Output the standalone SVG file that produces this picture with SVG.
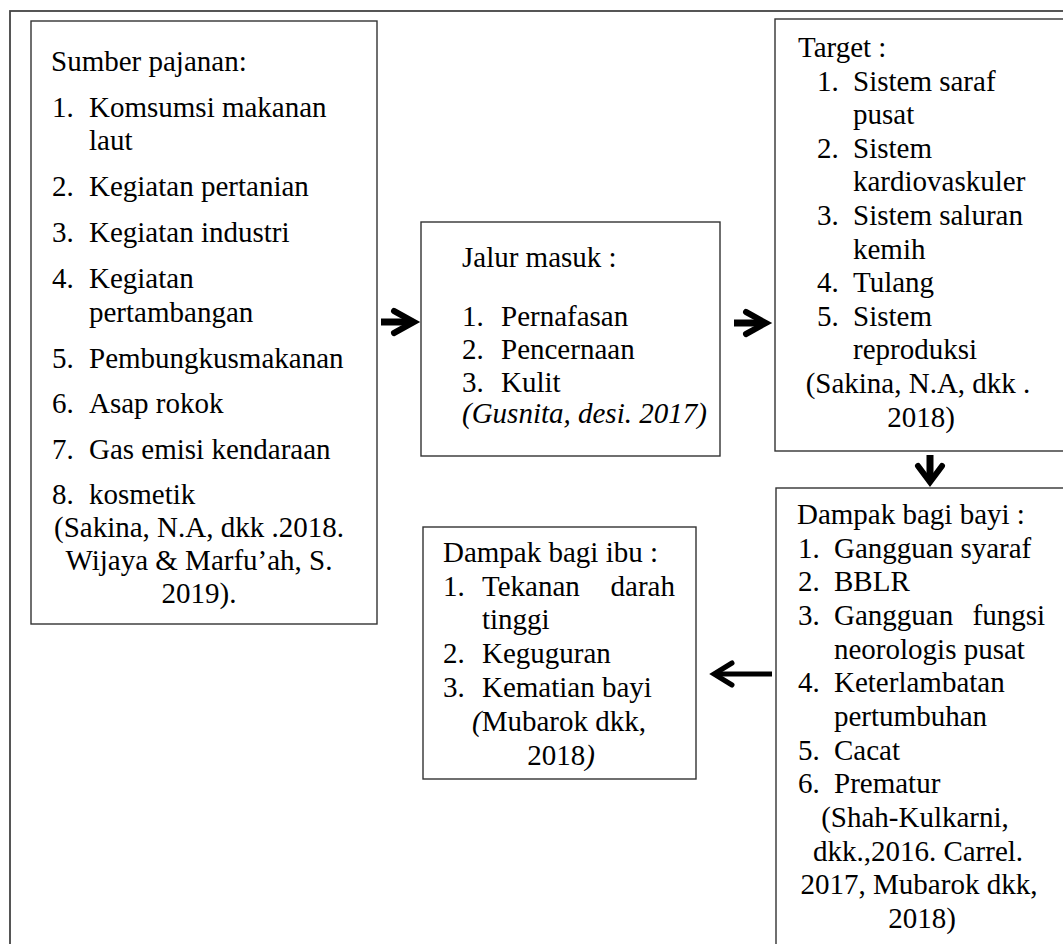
<svg xmlns="http://www.w3.org/2000/svg" width="1063" height="944" viewBox="0 0 1063 944">
<style>
.t{font-family:'Liberation Serif','Times New Roman',Times,serif;font-size:29px;fill:#000}
.c{text-anchor:middle}
.e{text-anchor:end}
.i{font-style:italic}
.box{fill:#fff;stroke:#333;stroke-width:1.4}
.outer{fill:#fff;stroke:#444;stroke-width:1.8}
.arr{fill:none;stroke:#000;stroke-width:6;stroke-linecap:round;stroke-linejoin:miter}
.shaft{fill:none;stroke:#000;stroke-width:7;stroke-linecap:butt}
</style>
<rect width="1063" height="944" fill="#fff"/>
<rect class="outer" x="10" y="11" width="1100" height="1000"/>
<g font-family="Liberation Serif, serif">
<g id="sumber">
<rect class="box" x="31" y="21" width="346" height="603"/>
<text class="t" x="51" y="71">Sumber pajanan:</text>
<text class="t" x="52" y="117">1.</text><text class="t" x="89" y="117">Komsumsi makanan</text>
<text class="t" x="89" y="150">laut</text>
<text class="t" x="52" y="196">2.</text><text class="t" x="89" y="196">Kegiatan pertanian</text>
<text class="t" x="52" y="242">3.</text><text class="t" x="89" y="242">Kegiatan industri</text>
<text class="t" x="52" y="288">4.</text><text class="t" x="89" y="288">Kegiatan</text>
<text class="t" x="89" y="322">pertambangan</text>
<text class="t" x="52" y="368">5.</text><text class="t" x="89" y="368">Pembungkusmakanan</text>
<text class="t" x="52" y="413">6.</text><text class="t" x="89" y="413">Asap rokok</text>
<text class="t" x="52" y="459">7.</text><text class="t" x="89" y="459">Gas emisi kendaraan</text>
<text class="t" x="52" y="504">8.</text><text class="t" x="89" y="504">kosmetik</text>
<text class="t c" x="199" y="537">(Sakina, N.A, dkk .2018.</text>
<text class="t c" x="199" y="570">Wijaya &amp; Marfu’ah, S.</text>
<text class="t c" x="199" y="603">2019).</text>
</g>
<g id="jalur">
<rect class="box" x="421" y="222" width="299" height="234"/>
<text class="t" x="462" y="267">Jalur masuk :</text>
<text class="t" x="462" y="326">1.</text><text class="t" x="501" y="326">Pernafasan</text>
<text class="t" x="462" y="359">2.</text><text class="t" x="501" y="359">Pencernaan</text>
<text class="t" x="462" y="392">3.</text><text class="t" x="501" y="392">Kulit</text>
<text class="t i" x="462" y="423">(Gusnita, desi. 2017)</text>
</g>
<g id="target">
<rect class="box" x="775" y="19" width="320" height="432"/>
<text class="t" x="798" y="57">Target :</text>
<text class="t" x="817" y="91">1.</text><text class="t" x="853" y="91">Sistem saraf</text>
<text class="t" x="853" y="124">pusat</text>
<text class="t" x="817" y="158">2.</text><text class="t" x="853" y="158">Sistem</text>
<text class="t" x="853" y="191">kardiovaskuler</text>
<text class="t" x="817" y="225">3.</text><text class="t" x="853" y="225">Sistem saluran</text>
<text class="t" x="853" y="259">kemih</text>
<text class="t" x="817" y="292">4.</text><text class="t" x="853" y="292">Tulang</text>
<text class="t" x="817" y="326">5.</text><text class="t" x="853" y="326">Sistem</text>
<text class="t" x="853" y="359">reproduksi</text>
<text class="t c" x="918" y="393">(Sakina, N.A, dkk .</text>
<text class="t c" x="921" y="427">2018)</text>
</g>
<g id="bayi">
<rect class="box" x="776" y="488" width="320" height="500"/>
<text class="t" x="797" y="524">Dampak bagi bayi :</text>
<text class="t" x="798" y="558">1.</text><text class="t" x="834" y="558">Gangguan syaraf</text>
<text class="t" x="798" y="591">2.</text><text class="t" x="834" y="591">BBLR</text>
<text class="t" x="798" y="625">3.</text><text class="t" x="834" y="625">Gangguan</text><text class="t e" x="1045" y="625">fungsi</text>
<text class="t" x="834" y="659">neorologis pusat</text>
<text class="t" x="798" y="692">4.</text><text class="t" x="834" y="692">Keterlambatan</text>
<text class="t" x="834" y="726">pertumbuhan</text>
<text class="t" x="798" y="760">5.</text><text class="t" x="834" y="760">Cacat</text>
<text class="t" x="798" y="793">6.</text><text class="t" x="834" y="793">Prematur</text>
<text class="t c" x="915" y="827">(Shah-Kulkarni,</text>
<text class="t c" x="918" y="861">dkk.,2016. Carrel.</text>
<text class="t c" x="919" y="894">2017, Mubarok dkk,</text>
<text class="t c" x="922" y="928">2018)</text>
</g>
<g id="ibu">
<rect class="box" x="423" y="527" width="273" height="252"/>
<text class="t" x="443" y="562">Dampak bagi ibu :</text>
<text class="t" x="443" y="596">1.</text><text class="t" x="482" y="596">Tekanan</text><text class="t e" x="675" y="596">darah</text>
<text class="t" x="482" y="629">tinggi</text>
<text class="t" x="443" y="663">2.</text><text class="t" x="482" y="663">Keguguran</text>
<text class="t" x="443" y="697">3.</text><text class="t" x="482" y="697">Kematian bayi</text>
<text class="t c" x="559" y="731"><tspan class="i">(</tspan>Mubarok dkk,</text>
<text class="t c" x="561" y="765">2018<tspan class="i">)</tspan></text>
</g>
</g>
<g id="connectors">
<path class="shaft" d="M381 322H412"/>
<path class="arr" d="M394 311L414 322L394 333"/>
<path class="shaft" d="M734 323H765"/>
<path class="arr" d="M746 312L766 323L746 334"/>
<path class="shaft" d="M930 455V478"/>
<path class="arr" d="M918 466L930 482L942 466"/>
<path class="shaft" d="M772 674H718" style="stroke-width:5"/>
<path class="arr" d="M732 663L714 674L732 685" style="stroke-width:5"/>
</g>
</svg>
